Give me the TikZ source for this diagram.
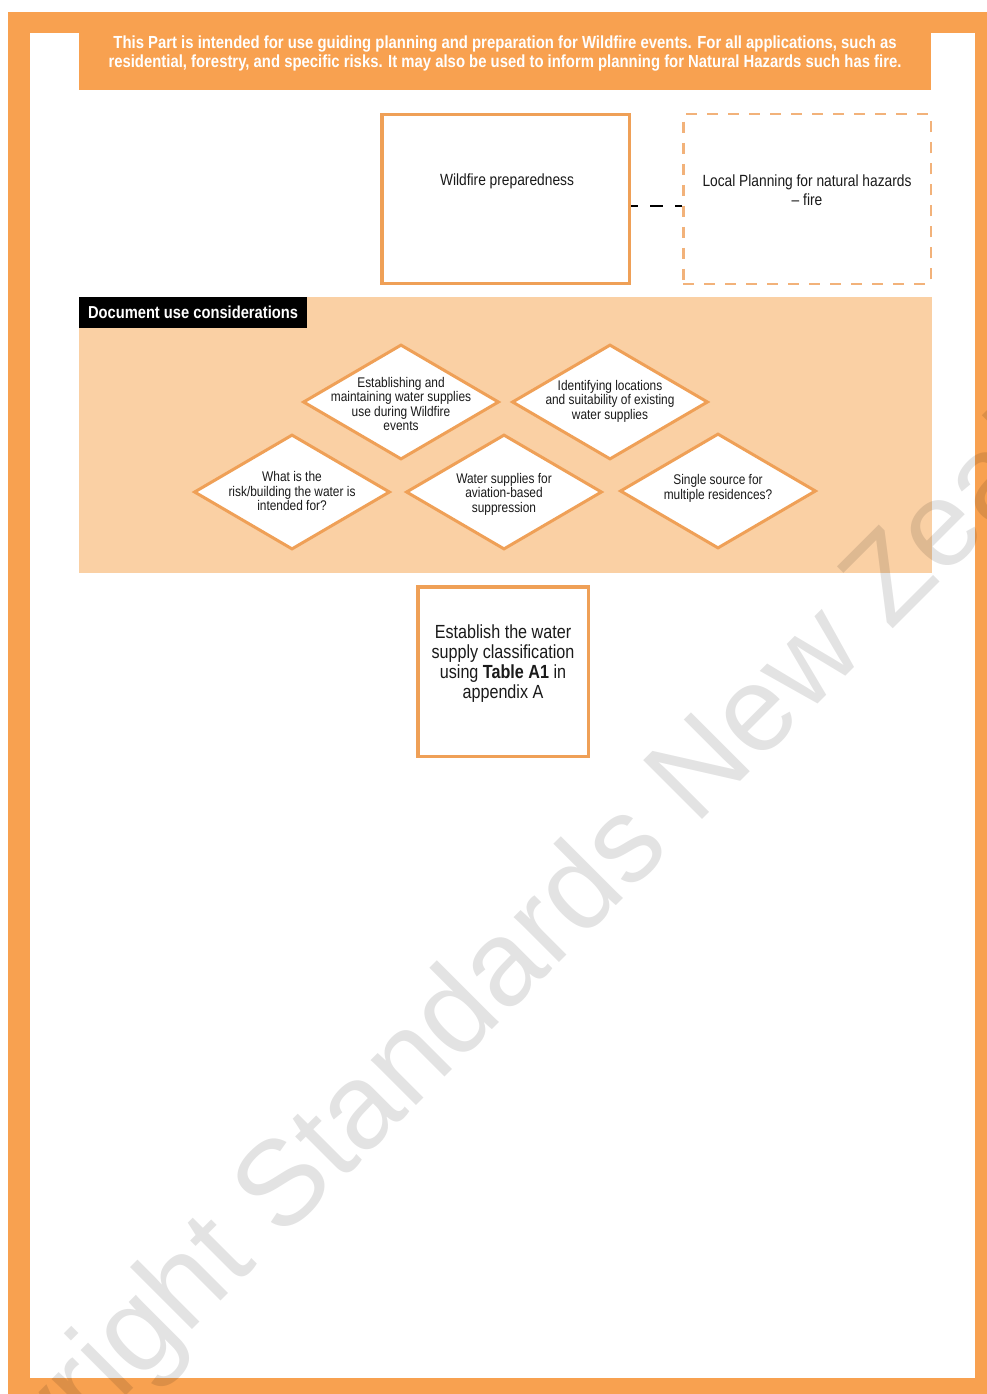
\documentclass[tikz,border=0pt]{standalone}
\usepackage{fontspec}
\setmainfont{Liberation Sans}[FakeStretch=0.85]
\newfontfamily\wmfont{Liberation Sans}
\usetikzlibrary{shapes.geometric,calc}
\definecolor{frameor}{HTML}{F8A150}
\definecolor{boxor}{HTML}{EFA057}
\definecolor{dashor}{HTML}{F2B27A}
\definecolor{peach}{HTML}{FAD0A4}
\definecolor{txt}{HTML}{1A1A1A}
\begin{document}
\begin{tikzpicture}[x=1pt,y=-1pt,
  boxnode/.style={draw=boxor, line width=3.5pt, fill=white, inner sep=0pt},
  dashbox/.style={draw=dashor, line width=2.5pt, fill=white, inner sep=0pt, dash pattern=on 11pt off 10pt},
  dia/.style={diamond, draw=boxor, fill=white, line width=3pt, minimum width=196pt, minimum height=115pt, inner sep=0pt},
  dtxt/.style={align=center, font=\fontsize{14}{14.5}\selectfont, text=txt, inner sep=0pt},
  btxt/.style={align=center, font=\fontsize{16.2}{19}\selectfont, text=txt, inner sep=0pt},
  conn/.style={draw=black, line width=2.5pt, dash pattern=on 13pt off 12pt, dash phase=6pt}
]
\useasboundingbox (0,0) rectangle (987,1394);
\clip (0,0) rectangle (987,1394);
% frame
\fill[white] (0,0) rectangle (987,1394);
\fill[frameor] (8,12) rectangle (987,1394);
\fill[white] (30,33) rectangle (975,1378);
\fill[frameor] (79,33) rectangle (931,90);
\node[align=center, text=white, font=\bfseries\fontsize{17.5}{19}\selectfont, inner sep=0pt] (hdr) at (505,54)
  {This Part is intended for use guiding planning and preparation for Wildfire events. For all applications, such as\\residential, forestry, and specific risks. It may also be used to inform planning for Natural Hazards such has fire.};
% top boxes
\node[boxnode, minimum width=247.5pt, minimum height=168.5pt] (wild) at (505.5,199) {};
\node[btxt] (wildt) at (507,181) {Wildfire preparedness};
\node[dashbox, minimum width=247.5pt, minimum height=169.5pt] (local) at (807,199) {};
\node[btxt] (localt) at (807,190.5) {Local Planning for natural hazards\\– fire};
\draw[conn] ([yshift=-7pt]wild.east) -- ([yshift=-7pt]local.west);
% considerations band
\fill[peach] (79,297) rectangle (932,573);
\node[fill=black, text=white, font=\bfseries\fontsize{17.3}{19}\selectfont, minimum width=228pt, minimum height=31pt, inner sep=0pt] (doclbl) at (193,312.5) {Document use considerations};
\node[dia] (d1) at (401,402) {};
\node[dtxt] (d1t) at (401,404) {Establishing and\\maintaining water supplies\\use during Wildfire\\events};
\node[dia] (d2) at (610,402) {};
\node[dtxt] (d2t) at (610,401) {Identifying locations\\and suitability of existing\\water supplies};
\node[dia] (d3) at (292,492) {};
\node[dtxt] (d3t) at (292,491) {What is the\\risk/building the water is\\intended for?};
\node[dia] (d4) at (504,492) {};
\node[dtxt] (d4t) at (504,494) {Water supplies for\\aviation-based\\suppression};
\node[dia] (d5) at (718,491) {};
\node[dtxt] (d5t) at (718,488.5) {Single source for\\multiple residences?};
% classification box
\node[boxnode, minimum width=170.5pt, minimum height=169.5pt] (cls) at (503,671.5) {};
\node[align=center, font=\fontsize{19}{20}\selectfont, text=txt, inner sep=0pt] (clst) at (503,664)
  {Establish the water\\supply classification\\using \textbf{Table A1} in\\appendix A};
% watermark
\node[font=\wmfont\fontsize{121}{121}\selectfont, text=black, text opacity=0.11, rotate=45, anchor=base west, inner sep=0pt] (wm) at (-108,1630) {Copyright Standards New Zealand};
\end{tikzpicture}
\end{document}
